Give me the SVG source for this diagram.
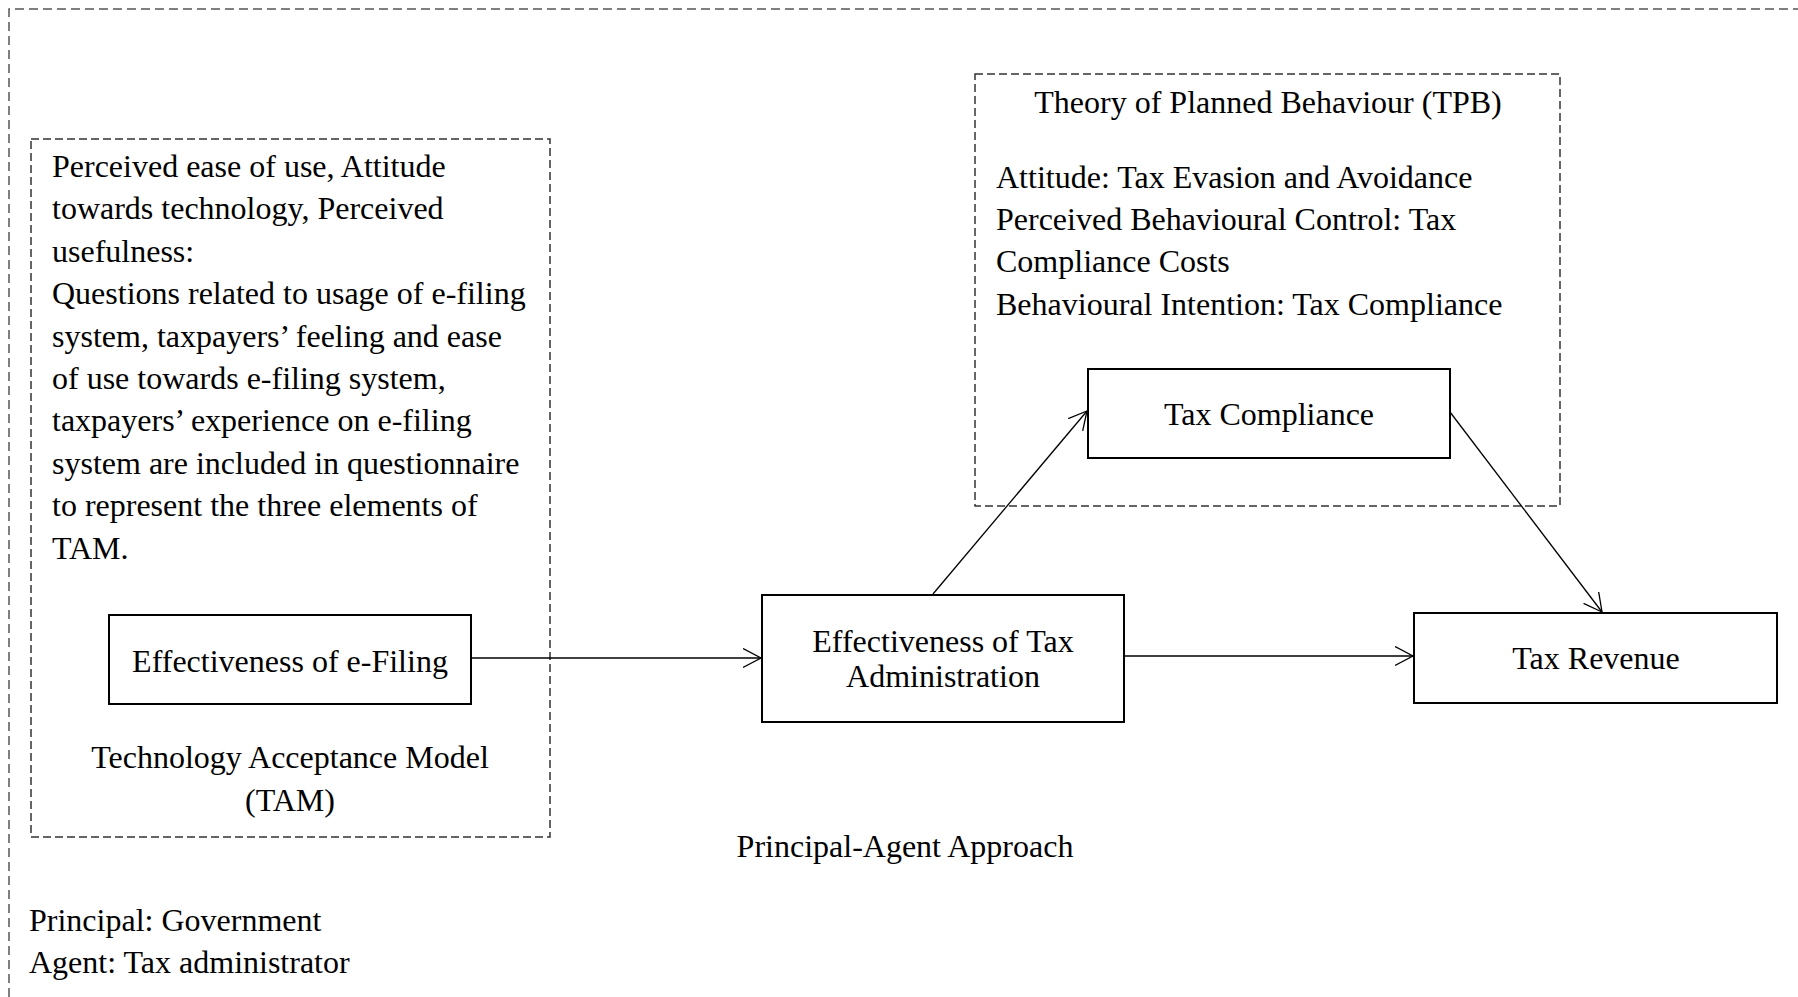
<svg xmlns="http://www.w3.org/2000/svg" width="1798" height="997" viewBox="0 0 1798 997">
<style>
text{font-family:"Liberation Serif","Times New Roman",serif;font-size:32px;fill:#000}
.c{text-anchor:middle}
.box{fill:#fff;stroke:#000;stroke-width:2}
.dash{fill:none;stroke:#333;stroke-width:1.5;stroke-dasharray:8 4}
.outer{fill:none;stroke:#555;stroke-width:1.5;stroke-dasharray:9 5}
.conn{fill:none;stroke:#000;stroke-width:1.3;marker-end:url(#arr)}
</style>
<defs>
<marker id="arr" markerUnits="userSpaceOnUse" viewBox="0 0 20 22" refX="18" refY="10" markerWidth="20" markerHeight="22" orient="auto">
<path d="M0,0.5 L18,10 L0,19.5" fill="none" stroke="#000" stroke-width="1.3"/>
</marker>
</defs>
<g id="outer-frame">
<path class="outer" d="M9,997 V9 H1798"/>
<text x="29" y="931">Principal: Government</text>
<text x="29" y="973">Agent: Tax administrator</text>
<text class="c" x="905" y="857">Principal-Agent Approach</text>
</g>
<g id="tam">
<rect class="dash" x="31" y="139" width="519" height="698"/>
<text x="52" y="177">Perceived ease of use, Attitude</text>
<text x="52" y="219.4">towards technology, Perceived</text>
<text x="52" y="261.8">usefulness:</text>
<text x="52" y="304.2">Questions related to usage of e-filing</text>
<text x="52" y="346.6">system, taxpayers’ feeling and ease</text>
<text x="52" y="389">of use towards e-filing system,</text>
<text x="52" y="431.4">taxpayers’ experience on e-filing</text>
<text x="52" y="473.8">system are included in questionnaire</text>
<text x="52" y="516.2">to represent the three elements of</text>
<text x="52" y="558.6">TAM.</text>
<text class="c" x="290" y="768">Technology Acceptance Model</text>
<text class="c" x="290" y="811">(TAM)</text>
</g>
<g id="tpb">
<rect class="dash" x="975" y="74" width="585" height="432"/>
<text class="c" x="1268" y="113">Theory of Planned Behaviour (TPB)</text>
<text x="996" y="188">Attitude: Tax Evasion and Avoidance</text>
<text x="996" y="230">Perceived Behavioural Control: Tax</text>
<text x="996" y="272">Compliance Costs</text>
<text x="996" y="315">Behavioural Intention: Tax Compliance</text>
</g>
<g id="efiling">
<rect class="box" x="109" y="615" width="362" height="89"/>
<text class="c" x="290" y="672">Effectiveness of e-Filing</text>
</g>
<g id="taxadmin">
<rect class="box" x="762" y="595" width="362" height="127"/>
<text class="c" x="943" y="652">Effectiveness of Tax</text>
<text class="c" x="943" y="687">Administration</text>
</g>
<g id="taxcompliance">
<rect class="box" x="1088" y="369" width="362" height="89"/>
<text class="c" x="1269" y="425">Tax Compliance</text>
</g>
<g id="taxrevenue">
<rect class="box" x="1414" y="613" width="363" height="90"/>
<text class="c" x="1596" y="669">Tax Revenue</text>
</g>
<g id="connectors">
<line class="conn" x1="472" y1="658" x2="761" y2="658"/>
<line class="conn" x1="1125" y1="656" x2="1413" y2="656"/>
<line class="conn" x1="933" y1="594" x2="1087" y2="411"/>
<line class="conn" x1="1450" y1="412" x2="1602" y2="612"/>
</g>
</svg>
